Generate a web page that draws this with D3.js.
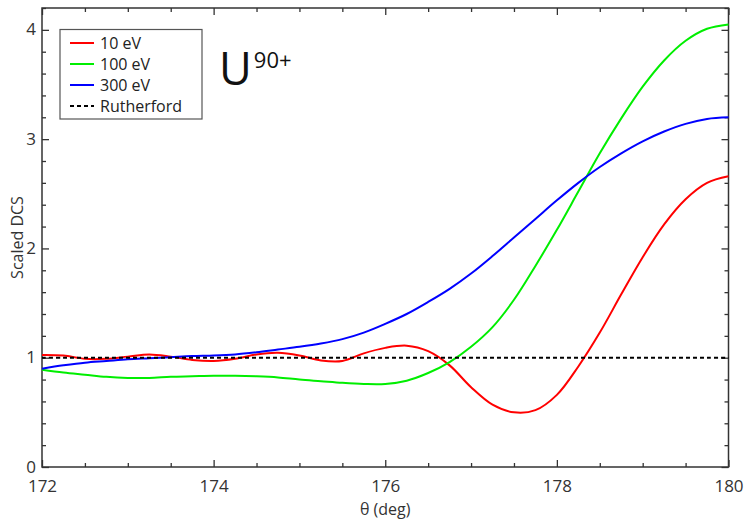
<!DOCTYPE html>
<html>
<head>
<meta charset="utf-8">
<script src="https://cdn.jsdelivr.net/npm/d3@7"></script>
<style>
  body { margin: 0; background: #fff; }
  text { font-family: "Open Sans", "DejaVu Sans", sans-serif; }
</style>
</head>
<body>
<svg id="chart"></svg>
<script>
var theta = [172, 172.25, 172.5, 172.75, 173, 173.25, 173.5, 173.75, 174, 174.25, 174.5, 174.75,
  175, 175.25, 175.5, 175.75, 176, 176.25, 176.5, 176.75, 177, 177.25, 177.5, 177.75,
  178, 178.25, 178.5, 178.75, 179, 179.25, 179.5, 179.75, 180];
var dcs10 = [1.025, 1.02, 0.99, 0.99, 1.01, 1.03, 1.01, 0.98, 0.97, 0.99, 1.03, 1.045,
  1.02, 0.975, 0.97, 1.04, 1.09, 1.11, 1.06, 0.93, 0.73, 0.57, 0.50, 0.52,
  0.66, 0.92, 1.23, 1.58, 1.92, 2.22, 2.45, 2.60, 2.66];
var dcs100 = [0.89, 0.865, 0.845, 0.825, 0.815, 0.815, 0.825, 0.83, 0.835, 0.835, 0.83, 0.82,
  0.80, 0.785, 0.77, 0.76, 0.76, 0.79, 0.86, 0.96, 1.10, 1.28, 1.53, 1.84,
  2.17, 2.52, 2.87, 3.19, 3.48, 3.72, 3.90, 4.01, 4.05];
var dcs300 = [0.90, 0.93, 0.955, 0.97, 0.985, 0.995, 1.005, 1.015, 1.02, 1.03, 1.05, 1.075,
  1.10, 1.13, 1.17, 1.23, 1.31, 1.40, 1.51, 1.63, 1.77, 1.93, 2.10, 2.27,
  2.44, 2.60, 2.745, 2.87, 2.98, 3.07, 3.14, 3.185, 3.20];
var rutherford = theta.map(function() { return 1; });

var seriesNames = ["10 eV", "100 eV", "300 eV", "Rutherford"];
var seriesColors = ["#ff0000", "#00ee00", "#0000ff", "#000000"];
var xTicks = [172, 174, 176, 178, 180];
var yTicks = [0, 1, 2, 3, 4];

var svgWidth = 746, svgHeight = 519;
var margin = {left: 42, top: 8, right: 17.5, bottom: 52};
var plotW = svgWidth - margin.left - margin.right;
var plotH = svgHeight - margin.top - margin.bottom;
var axisColor = "#333";

var svg = d3.select("#chart")
  .attr("width", svgWidth)
  .attr("height", svgHeight);

var x = d3.scaleLinear().domain([172, 180]).range([0, plotW]);
var y = d3.scaleLinear().domain([0, 4.2]).range([plotH, 0]);

var g = svg.append("g")
  .attr("transform", "translate(" + margin.left + "," + margin.top + ")");

var xMinor = d3.range(172, 180.01, 0.5).filter(function(d) { return d % 2 !== 0; });
var yMinor = d3.range(0, 4.21, 0.2).filter(function(d) { return Math.abs(d - Math.round(d)) > 0.01; });

function styleAxis(sel) {
  sel.select(".domain").remove();
  sel.selectAll("line").attr("stroke", axisColor).attr("stroke-width", 1.3);
  sel.selectAll("text")
    .style("font-size", "17px")
    .attr("fill", "#333");
}

// bottom
g.append("g").attr("transform", "translate(0," + plotH + ")")
  .call(d3.axisBottom(x).tickValues(xTicks).tickSize(-7).tickPadding(13).tickFormat(d3.format("d")))
  .call(styleAxis);
g.append("g").attr("transform", "translate(0," + plotH + ")")
  .call(d3.axisBottom(x).tickValues(xMinor).tickSize(-4).tickFormat(""))
  .call(styleAxis);
// top
g.append("g")
  .call(d3.axisTop(x).tickValues(xTicks).tickSize(-7).tickFormat(""))
  .call(styleAxis);
g.append("g")
  .call(d3.axisTop(x).tickValues(xMinor).tickSize(-4).tickFormat(""))
  .call(styleAxis);
// left
g.append("g")
  .call(d3.axisLeft(y).tickValues(yTicks).tickSize(-7).tickPadding(6).tickFormat(d3.format("d")))
  .call(styleAxis)
  .selectAll("text").attr("dy", "0.3em");
g.append("g")
  .call(d3.axisLeft(y).tickValues(yMinor).tickSize(-4).tickFormat(""))
  .call(styleAxis);
// right
g.append("g").attr("transform", "translate(" + plotW + ",0)")
  .call(d3.axisRight(y).tickValues(yTicks).tickSize(-7).tickFormat(""))
  .call(styleAxis);
g.append("g").attr("transform", "translate(" + plotW + ",0)")
  .call(d3.axisRight(y).tickValues(yMinor).tickSize(-4).tickFormat(""))
  .call(styleAxis);

// frame
g.append("rect")
  .attr("width", plotW).attr("height", plotH)
  .attr("fill", "none").attr("stroke", axisColor).attr("stroke-width", 1.5);

var allSeries = [dcs10, dcs100, dcs300, rutherford];
var line = d3.line()
  .x(function(d, i) { return x(theta[i]); })
  .y(function(d) { return y(d); })
  .curve(d3.curveCatmullRom.alpha(0.5));

g.append("g").selectAll("path")
  .data(allSeries)
  .enter()
  .append("path")
  .attr("d", line)
  .attr("fill", "none")
  .attr("stroke", function(d, i) { return seriesColors[i]; })
  .attr("stroke-width", 2)
  .attr("stroke-dasharray", function(d, i) { return i === 3 ? "4,3" : null; });

// legend
var legend = svg.append("g").attr("transform", "translate(60,29.5)");
legend.append("rect")
  .attr("width", 142).attr("height", 89.5)
  .attr("fill", "#fff").attr("stroke", "#555").attr("stroke-width", 1.2);
seriesNames.forEach(function(name, i) {
  var ly = 13.5 + i * 21;
  legend.append("line")
    .attr("x1", 10).attr("x2", 34).attr("y1", ly).attr("y2", ly)
    .attr("stroke", seriesColors[i]).attr("stroke-width", 2)
    .attr("stroke-dasharray", i === 3 ? "4,3" : null);
  legend.append("text")
    .attr("x", 40).attr("y", ly + 5.5)
    .style("font-size", "16px")
    .attr("fill", "#222")
    .text(name);
});

// ion label
var ion = svg.append("text").attr("x", 219).attr("y", 85).attr("fill", "#111");
ion.append("tspan").style("font-size", "45px").text("U");
ion.append("tspan").attr("dy", -17).attr("dx", 2).style("font-size", "22px").text("90+");

// axis titles
svg.append("text")
  .attr("x", margin.left + plotW / 2).attr("y", 515)
  .attr("text-anchor", "middle")
  .style("font-size", "16px").attr("fill", "#333")
  .text("θ (deg)");

svg.append("text")
  .attr("transform", "rotate(-90)")
  .attr("x", -(margin.top + plotH / 2)).attr("y", 23)
  .attr("text-anchor", "middle")
  .style("font-size", "16px").attr("fill", "#333")
  .text("Scaled DCS");
</script>
</body>
</html>
